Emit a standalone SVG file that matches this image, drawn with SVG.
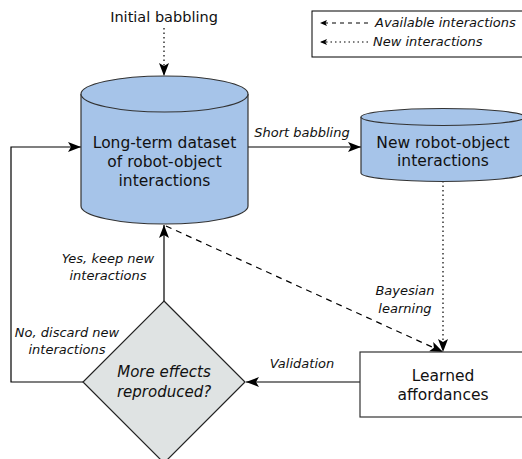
<svg xmlns="http://www.w3.org/2000/svg" width="522" height="459" viewBox="0 0 522 459">
<style>
.t{font-family:"DejaVu Sans",sans-serif;fill:#111;text-anchor:middle}
.n{font-size:15.5px}
.i{font-size:13px;font-style:italic}
.c{stroke:#000;stroke-width:1.2;fill:none}
.dot{stroke-dasharray:1.5 3}
.dash{stroke-dasharray:6 5}
.cyl{fill:#a6c4e9;stroke:#333;stroke-width:1.2}
</style>
<defs>
<marker id="a" markerUnits="userSpaceOnUse" markerWidth="14" markerHeight="12" refX="13" refY="5" orient="auto">
<path d="M0,0 L13,5 L0,10 L3,5 z" fill="#000"/>
</marker>
<marker id="s" markerUnits="userSpaceOnUse" markerWidth="8" markerHeight="8" refX="7" refY="3" orient="auto">
<path d="M0,0 L7,3 L0,6 L1.5,3 z" fill="#000"/>
</marker>
</defs>
<rect width="522" height="459" fill="#fff"/>

<g id="legend">
<rect x="312" y="11" width="220" height="46" fill="#fff" stroke="#000" stroke-width="1"/>
<line x1="368" y1="23" x2="320" y2="23" class="c" stroke-dasharray="4 4" stroke-width="1" marker-end="url(#s)"/>
<line x1="368" y1="42" x2="320" y2="42" class="c dot" stroke-width="1" marker-end="url(#s)"/>
<text x="375" y="27" class="t i" style="text-anchor:start">Available interactions</text>
<text x="373" y="46" class="t i" style="text-anchor:start">New interactions</text>
</g>

<g id="connectors">
<line x1="164" y1="28" x2="164" y2="76" class="c dot" marker-end="url(#a)"/>
<line x1="248" y1="147" x2="361" y2="147" class="c" marker-end="url(#a)"/>
<line x1="443" y1="181" x2="443" y2="352" class="c dot" marker-end="url(#a)"/>
<line x1="166" y1="226" x2="443" y2="352" class="c dash" marker-end="url(#a)"/>
<line x1="360" y1="382" x2="246" y2="382" class="c" marker-end="url(#a)"/>
<line x1="164" y1="301" x2="164" y2="225" class="c" marker-end="url(#a)"/>
<polyline points="83,382 11,382 11,147 81,147" class="c" marker-end="url(#a)"/>
<text x="164" y="22" class="t n" style="font-size:14.5px">Initial babbling</text>
<text x="302" y="137" class="t i">Short babbling</text>
<text x="405" y="295" class="t i">Bayesian</text>
<text x="405" y="313" class="t i">learning</text>
<text x="302" y="368" class="t i">Validation</text>
<text x="108" y="263" class="t i">Yes, keep new</text>
<text x="108" y="280" class="t i">interactions</text>
<text x="67" y="337" class="t i">No, discard new</text>
<text x="67" y="354" class="t i">interactions</text>
</g>

<g id="dataset">
<path d="M81,94 L81,206 A83.5,18 0 0 0 248,206 L248,94 A83.5,18 0 0 0 81,94 Z" class="cyl"/>
<path d="M81,94 A83.5,18 0 0 0 248,94" class="cyl" fill="none"/>
<text x="164.5" y="148" class="t n">Long-term dataset</text>
<text x="164.5" y="167" class="t n">of robot-object</text>
<text x="164.5" y="186" class="t n">interactions</text>
</g>

<g id="new-interactions">
<path d="M361,117 L361,173 A82,8.5 0 0 0 525,173 L525,117 A82,8.5 0 0 0 361,117 Z" class="cyl"/>
<path d="M361,117 A82,8.5 0 0 0 525,117" class="cyl" fill="none"/>
<text x="443" y="148" class="t n">New robot-object</text>
<text x="443" y="166" class="t n">interactions</text>
</g>

<g id="learned-affordances">
<rect x="360" y="352" width="175" height="65" fill="#fff" stroke="#333" stroke-width="1.2"/>
<text x="443" y="381" class="t n">Learned</text>
<text x="443" y="400" class="t n">affordances</text>
</g>

<g id="decision">
<polygon points="164,301 245,382 164,463 83,382" fill="#dfe3e3" stroke="#222" stroke-width="1.2"/>
<text x="164" y="377" class="t" style="font-size:15px;font-style:italic">More effects</text>
<text x="164" y="397" class="t" style="font-size:15px;font-style:italic">reproduced?</text>
</g>
</svg>
